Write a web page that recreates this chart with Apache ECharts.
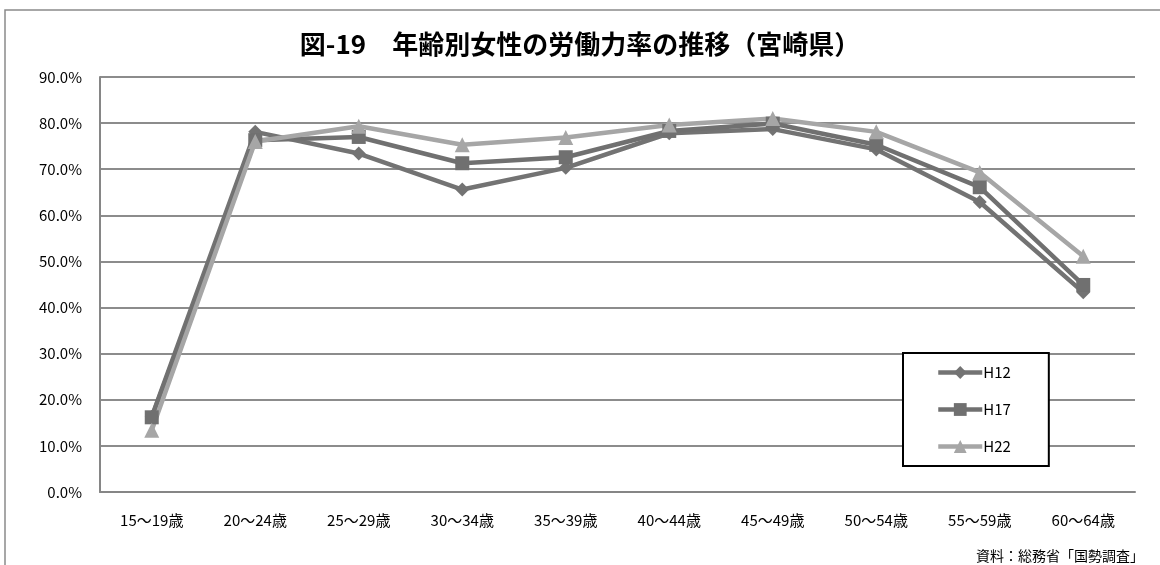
<!DOCTYPE html>
<html>
<head>
<meta charset="utf-8">
<script src="https://cdn.jsdelivr.net/npm/echarts@6/dist/echarts.min.js"></script>
<style>
  html, body { margin: 0; padding: 0; background: #fff; }
  #chart { width: 1160px; height: 565px; }
</style>
</head>
<body>
<div id="chart"></div>
<script>
// 年齢階級
var categories = ["15〜19歳", "20〜24歳", "25〜29歳", "30〜34歳", "35〜39歳",
  "40〜44歳", "45〜49歳", "50〜54歳", "55〜59歳", "60〜64歳"];
// 労働力率(%)
var h12 = [16.3, 78.1, 73.4, 65.6, 70.3, 77.8, 78.7, 74.3, 62.9, 43.3];
var h17 = [16.2, 76.3, 77.0, 71.3, 72.6, 78.3, 79.9, 75.3, 66.1, 44.9];
var h22 = [13.4, 76.0, 79.3, 75.3, 76.9, 79.6, 81.0, 78.1, 69.3, 51.1];
var seriesNames = ["H12", "H17", "H22"];

var font = '"Noto Sans CJK JP", sans-serif';
var myChart = echarts.init(document.getElementById("chart"));

function line(name, data, symbol, size, color) {
  return {
    name: name,
    type: "line",
    data: data,
    symbol: symbol,
    symbolSize: size,
    lineStyle: { width: 4.5, color: color },
    itemStyle: { color: color },
    z: 3
  };
}

var option = {
  backgroundColor: "#fff",
  animation: false,
  title: {
    text: "図-19　年齢別女性の労働力率の推移（宮崎県）",
    left: "center",
    top: 26,
    textStyle: { fontFamily: font, fontSize: 26, fontWeight: "bold", color: "#000" }
  },
  grid: { left: 100, right: 25, top: 77, bottom: 73 },
  legend: {
    orient: "vertical",
    left: 903,
    top: 353,
    padding: [12, 38, 12, 33],
    itemGap: 22,
    itemWidth: 44,
    itemHeight: 16,
    backgroundColor: "#fff",
    borderColor: "#000",
    borderWidth: 2,
    lineStyle: { width: 4.5 },
    textStyle: { fontFamily: font, fontSize: 15, color: "#000", padding: [0, 0, 0, -4] },
    data: seriesNames
  },
  xAxis: {
    type: "category",
    data: categories,
    axisLine: { lineStyle: { color: "#868686", width: 2 } },
    axisTick: { show: false },
    axisLabel: { fontFamily: font, fontSize: 15, color: "#000", margin: 21 }
  },
  yAxis: {
    type: "value",
    min: 0,
    max: 90,
    interval: 10,
    axisLine: { show: true, lineStyle: { color: "#868686", width: 2 } },
    axisTick: { show: false },
    splitLine: { lineStyle: { color: "#8c8c8c", width: 2 } },
    axisLabel: {
      fontFamily: font, fontSize: 15, color: "#000", margin: 18,
      formatter: function (v) { return v.toFixed(1) + "%"; }
    }
  },
  graphic: [
    {
      type: "rect",
      shape: { x: 5, y: 10, width: 1165, height: 570 },
      style: { fill: "none", stroke: "#8a8a8a", lineWidth: 1.5 },
      silent: true
    },
    {
      type: "text",
      right: 16,
      bottom: 2,
      style: { text: "資料：総務省「国勢調査」", fontFamily: font, fontSize: 14, fill: "#000" }
    }
  ],
  series: [
    line("H12", h12, "diamond", 14, "#737373"),
    line("H17", h17, "rect", 14, "#707070"),
    line("H22", h22, "triangle", 15, "#a6a6a6")
  ]
};

myChart.setOption(option);
</script>
</body>
</html>
